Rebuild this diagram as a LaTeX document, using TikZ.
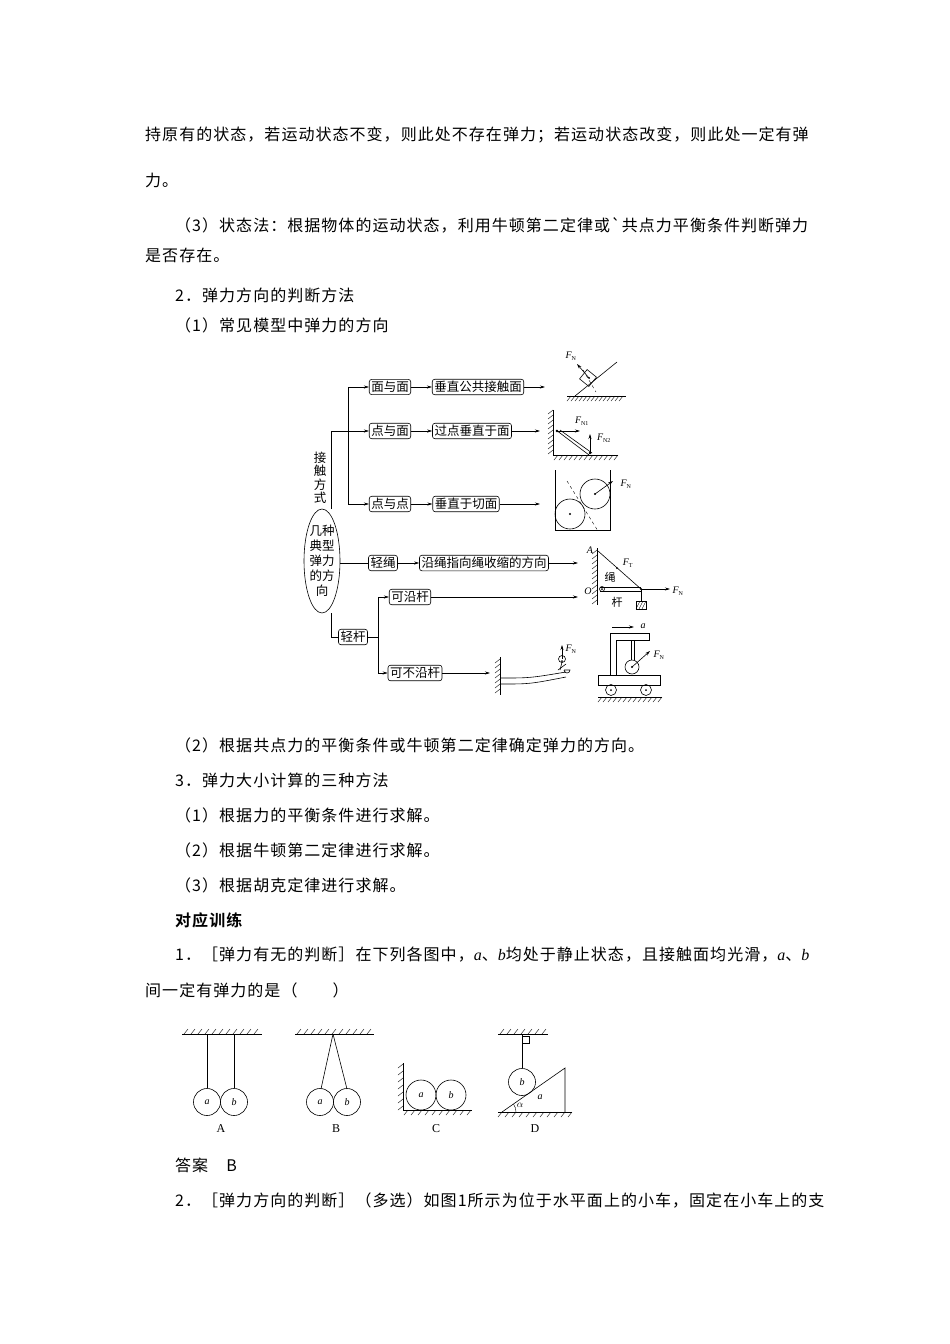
\documentclass[tikz,border=0pt]{standalone}
\usepackage{fontspec}
\setmainfont{Liberation Serif}
\newfontfamily\cjk[LetterSpace=6.5]{Noto Sans CJK SC}
\newfontfamily\cjkb[LetterSpace=6.5]{Noto Sans CJK SC Bold}
\newfontfamily\cjs{Noto Sans CJK SC}
\newcommand{\vi}[1]{{\rmfamily\itshape #1}}
\newcommand{\sbs}[1]{\textsubscript{\upshape\fontsize{6}{7}\selectfont #1}}
\usetikzlibrary{shapes.geometric,arrows.meta}
\newcommand{\hatchD}[2]{\foreach \xx in {#1}{\draw[thin] (\xx,#2) -- ++(-4,5);}}
\newcommand{\hatchU}[2]{\foreach \xx in {#1}{\draw[thin] (\xx,#2) -- ++(4,-5);}}
\newcommand{\hatchL}[2]{\foreach \yy in {#1}{\draw[thin] (#2,\yy) -- ++(-5,4);}}
\begin{document}
\begin{tikzpicture}[x=1pt,y=-1pt,
 body/.style={anchor=west,inner sep=0,font=\fontsize{16}{18}\cjk},
 fbox/.style={draw,rounded corners=2.5pt,inner sep=2pt,font=\fontsize{12.5}{14}\cjs,line width=0.6pt},
 arr/.style={-{Stealth[length=5pt,width=3pt]},line width=0.6pt},
 ln/.style={line width=0.6pt},
 lbl/.style={inner sep=0,font=\fontsize{10}{12}\selectfont\itshape}]
\useasboundingbox (0,0) rectangle (950,1344);
\fill[white] (0,0) rectangle (950,1344);
% body text
\node[body] (t1) at (145,135) {持原有的状态，若运动状态不变，则此处不存在弹力；若运动状态改变，则此处一定有弹};
\node[body] (t2) at (145,180) {力。};
\node[body] (t3) at (175,225) {（3）状态法：根据物体的运动状态，利用牛顿第二定律或`共点力平衡条件判断弹力};
\node[body] (t4) at (145,255) {是否存在。};
\node[body] (t5) at (175,295) {2．弹力方向的判断方法};
\node[body] (t6) at (175,325) {（1）常见模型中弹力的方向};
\node[body] (t7) at (175,745) {（2）根据共点力的平衡条件或牛顿第二定律确定弹力的方向。};
\node[body] (t8) at (175,780) {3．弹力大小计算的三种方法};
\node[body] (t9) at (175,815) {（1）根据力的平衡条件进行求解。};
\node[body] (t10) at (175,850) {（2）根据牛顿第二定律进行求解。};
\node[body] (t11) at (175,885) {（3）根据胡克定律进行求解。};
\node[body,font=\fontsize{16}{18}\cjkb] (t12) at (175,920) {对应训练};
\node[body] (t13) at (175,955) {1．［弹力有无的判断］在下列各图中，\vi{a}、\vi{b}均处于静止状态，且接触面均光滑，\vi{a}、\vi{b}};
\node[body] (t14) at (145,990) {间一定有弹力的是（　　）};
\node[body] (t15) at (175,1165) {答案　B};
\node[body] (t16) at (175,1200) {2．［弹力方向的判断］（多选）如图1所示为位于水平面上的小车，固定在小车上的支};

% flowchart
\node[fbox] (mm) at (390,387) {面与面};
\node[fbox] (mm2) at (478,387) {垂直公共接触面};
\node[fbox] (dm) at (390,431) {点与面};
\node[fbox] (dm2) at (472,431) {过点垂直于面};
\node[fbox] (dd) at (390,504) {点与点};
\node[fbox] (dd2) at (466,504) {垂直于切面};
\node[draw,ellipse,line width=0.6pt,minimum width=36pt,minimum height=104pt,inner sep=0,align=center,font=\fontsize{12.5}{15}\cjs] (el) at (322,561) {几种\\典型\\弹力\\的方\\向};
\node[inner sep=0,align=center,font=\fontsize{12.5}{13.5}\cjs] (jc) at (320,478) {接\\触\\方\\式};
\node[fbox] (qs) at (383,563) {轻绳};
\node[fbox] (qs2) at (484,563) {沿绳指向绳收缩的方向};
\node[fbox] (qg) at (353,637) {轻杆};
\node[fbox] (ky) at (410,597) {可沿杆};
\node[fbox] (kb) at (415,673) {可不沿杆};
\coordinate (e1) at (545,387); \coordinate (e2) at (540,431); \coordinate (e3) at (540,504);
\coordinate (e4) at (578,563); \coordinate (e5) at (578,597); \coordinate (e6) at (490,673);
\draw[ln] (348,387) -- (348,504);
\draw[arr] (348,387) -- (mm); \draw[arr] (348,431) -- (dm); \draw[arr] (348,504) -- (dd);
\draw[ln] (331,509) -- (331,431) -- (348,431);
\draw[arr] (mm) -- (mm2); \draw[arr] (dm) -- (dm2); \draw[arr] (dd) -- (dd2);
\draw[arr] (mm2) -- (e1); \draw[arr] (dm2) -- (e2); \draw[arr] (dd2) -- (e3);
\draw[ln] (el.east |- qs) -- (qs); \draw[arr] (qs) -- (qs2); \draw[arr] (qs2) -- (e4);
\draw[ln] (331,613) -- (331,637) -- (qg);
\draw[ln] (qg) -- (378,637); \draw[ln] (378,597) -- (378,673);
\draw[arr] (378,597) -- (ky); \draw[arr] (378,673) -- (kb);
\draw[arr] (ky) -- (e5); \draw[arr] (kb) -- (e6);

% fig1 incline
\draw[ln] (567,396) -- (626,396); \hatchD{571,575,...,626}{396}
\draw[ln] (575,396) -- (617,362);
\draw[ln,rotate around={-39:(588,378)}] (582,372) rectangle (594,384);
\fill (589,378) circle (1pt);
\draw[dashed,thin] (583,370) -- (596,392);
\draw[arr] (589,378) -- (577,364);
\node[lbl] at (571,356) {F\sbs{N}};
% fig2
\draw[ln] (553,410) -- (553,455) -- (618,455); \hatchL{410,415,...,450}{553} \hatchD{558,563,...,618}{455}
\draw[ln] (556,430) -- (589,455); \draw[ln] (560,430) -- (592,453);
\fill (557,431) circle (1.3pt); \fill (590,453) circle (1.3pt);
\draw[arr] (557,431) -- (580,431); \node[lbl] at (582,421) {F\sbs{N1}};
\draw[arr] (590,453) -- (590,434); \node[lbl] at (604,438) {F\sbs{N2}};
% fig3
\draw[ln] (555,470) -- (555,530) -- (610,530) -- (610,470);
\draw[ln] (570,514) circle (15); \draw[ln] (595,494) circle (15);
\fill (570,514) circle (1.2pt); \fill (595,494) circle (1.2pt);
\draw[dashed,thin] (567,481) -- (598,531);
\draw[arr] (595,494) -- (613,481); \node[lbl] at (626,484) {F\sbs{N}};
% fig4
\draw[ln] (597,548) -- (597,605); \hatchL{550,555,...,600}{597}
\node[lbl] at (590,550) {A}; \node[lbl] at (588,591) {O};
\draw[ln] (598,551) -- (641,589);
\draw[ln] (600,587) -- (641,587); \draw[ln] (600,591) -- (641,591);
\draw[ln] (602,589) circle (2.5); \fill (602,589) circle (1pt);
\fill (641,589) circle (1.2pt); \fill (617,568) circle (1pt);
\node[lbl] at (628,563) {F\sbs{T}};
\node[inner sep=0,font=\fontsize{11}{12}\cjs] at (610,577) {绳};
\node[inner sep=0,font=\fontsize{11}{12}\cjs] at (617,602) {杆};
\draw[arr] (641,589) -- (670,589); \node[lbl] at (678,591) {F\sbs{N}};
\draw[ln] (641,589) -- (641,601); \draw[ln] (636,601) rectangle (646,609);
\foreach \k in {0,3,6} \draw[thin] (636+\k,609) -- (640+\k,601);
% fig5
\draw[ln] (500,657) -- (500,695); \hatchL{659,664,...,692}{500}
\draw[ln] (501,678) .. controls (530,678) .. (566,672); \draw[ln] (501,684) .. controls (530,684) .. (566,677);
\draw[ln] (562,659) circle (3.5); \fill (562,661) circle (1pt);
\draw[ln] (558,670) -- (566,664); \draw[ln] (562,662) -- (560,670);
\draw[ln] (564,670) arc (180:0:3) -- (564,670);
\draw[arr] (562,659) -- (562,645); \node[lbl] at (571,649) {F\sbs{N}};
% fig6 cart
\draw[ln] (598,675) rectangle (660,685);
\draw[ln] (611,690) circle (5.5); \draw[ln] (646,690) circle (5.5);
\fill (611,690) circle (1pt); \fill (646,690) circle (1pt);
\draw[ln] (598,697) -- (662,697); \hatchD{602,607,...,662}{697}
\draw[ln] (610,675) -- (610,633) -- (649,633) -- (649,640) -- (616,640) -- (616,675);
\draw[ln] (631,640) -- (631,660); \draw[ln] (634,640) -- (634,660);
\draw[ln] (632,667) circle (7); \fill (632,667) circle (1.2pt);
\draw[arr] (632,667) -- (650,651); \node[lbl] at (659,655) {F\sbs{N}};
\draw[arr] (612,627) -- (634,627); \node[lbl] at (643,626) {a};

% bottom figures
% A
\draw[ln] (182,1034) -- (262,1034); \hatchU{184,191,...,258}{1034}
\draw[ln] (207,1034) -- (207,1088); \draw[ln] (234,1034) -- (234,1088);
\draw[ln] (207,1102) circle (13.5); \draw[ln] (234,1102) circle (13.5);
\node[lbl] at (207,1102) {a}; \node[lbl] at (234,1102) {b};
\node[inner sep=0,font=\fontsize{12}{14}\selectfont] at (221,1129) {A};
% B
\draw[ln] (295,1034) -- (374,1034); \hatchU{297,304,...,370}{1034}
\draw[ln] (333,1034) -- (321,1089); \draw[ln] (333,1034) -- (347,1089);
\draw[ln] (320,1102) circle (13.5); \draw[ln] (347,1102) circle (13.5);
\node[lbl] at (320,1102) {a}; \node[lbl] at (347,1102) {b};
\node[inner sep=0,font=\fontsize{12}{14}\selectfont] at (336,1129) {B};
% C
\draw[ln] (403,1063) -- (403,1110) -- (472,1110); \hatchL{1064,1071,...,1106}{403} \hatchD{408,415,...,472}{1110}
\draw[ln] (421,1095) circle (15); \draw[ln] (451,1095) circle (15);
\node[lbl] at (421,1095) {a}; \node[lbl] at (451,1095) {b};
\node[inner sep=0,font=\fontsize{12}{14}\selectfont] at (436,1129) {C};
% D
\draw[ln] (498,1034) -- (548,1034); \hatchU{500,507,...,544}{1034}
\draw[ln] (522,1034) -- (522,1068); \draw[thin] (522,1036) rectangle (529,1043);
\draw[ln] (522,1082) circle (13.5); \node[lbl] at (522,1082) {b};
\draw[ln] (498,1112) -- (572,1112); \hatchD{502,509,...,572}{1112}
\draw[ln] (502,1112) -- (565,1068) -- (565,1112);
\draw[thin] (516,1112) arc (0:-35:14);
\node[lbl] at (520,1105) {$\alpha$}; \node[lbl] at (540,1097) {a};
\node[inner sep=0,font=\fontsize{12}{14}\selectfont] at (535,1129) {D};
\end{tikzpicture}
\end{document}
